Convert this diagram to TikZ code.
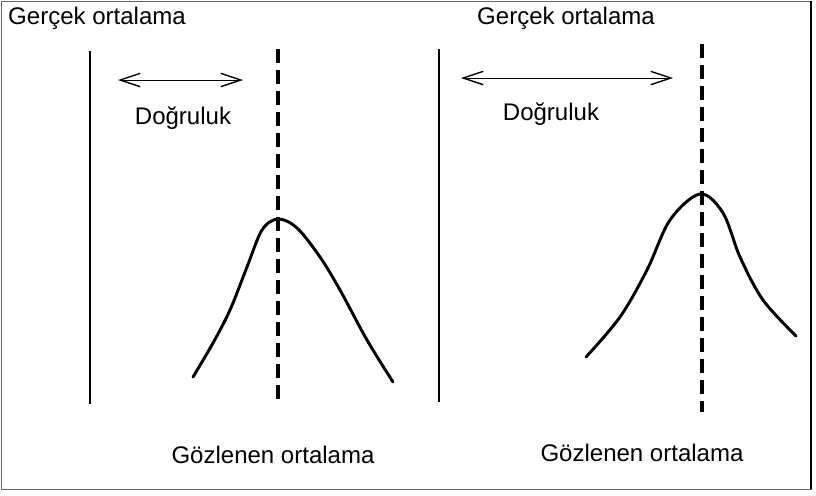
\documentclass[tikz,border=0pt]{standalone}
\usepackage{fontspec}
\setmainfont{Liberation Sans}
\usetikzlibrary{arrows.meta}
\tikzset{lbl/.style={inner sep=0pt,font=\fontsize{20.5}{24}\selectfont},truemean/.style={line width=1.3pt},obsmean/.style={line width=2.8pt,dash pattern=on 4.2mm off 2.1mm},bell/.style={line width=2.5pt,line cap=round,line join=round},accline/.style={{Straight Barb[length=6mm,width=4mm,line width=1.2pt]}-{Straight Barb[length=6mm,width=4mm,line width=1.2pt]},line width=0.7pt}}

\begin{document}
\begin{tikzpicture}[x=0.03cm,y=-0.03cm]
\useasboundingbox (0,0) rectangle (816,495);
\draw[line width=0.7pt,black!60] (1,1) rectangle (811,489);
\draw[line width=1.6pt] (811,1) -- (811,489);
% left panel
\node[lbl,anchor=base west] (true1) at (8,24) {Gerçek ortalama};
\coordinate (t1top) at (90,51);
\coordinate (t1bot) at (90,404);
\coordinate (o1top) at (278,49);
\coordinate (o1bot) at (278,400);
\draw[truemean] (t1top) -- (t1bot);
\draw[obsmean] (o1top) -- (o1bot);
\coordinate (a1l) at (118,80);
\coordinate (a1r) at (243,80);
\draw[accline] (a1l) -- (a1r);
\node[lbl,anchor=base] (acc1) at (183,124) {Doğruluk};
\draw[bell] plot[smooth,tension=0.55] coordinates {(193,377) (213,343) (230,310) (247,267) (262,230) (278,219) (297,228) (320,257) (340,290) (367,340) (393,382)};
\node[lbl,anchor=base] (obs1) at (273,463) {Gözlenen ortalama};
% right panel
\node[lbl,anchor=base west] (true2) at (477,24) {Gerçek ortalama};
\coordinate (t2top) at (439,49);
\coordinate (t2bot) at (439,402);
\coordinate (o2top) at (702,44);
\coordinate (o2bot) at (702,412);
\draw[truemean] (t2top) -- (t2bot);
\draw[obsmean] (o2top) -- (o2bot);
\coordinate (a2l) at (461,78);
\coordinate (a2r) at (673,78);
\draw[accline] (a2l) -- (a2r);
\node[lbl,anchor=base] (acc2) at (551,120) {Doğruluk};
\draw[bell] plot[smooth,tension=0.55] coordinates {(586,357) (620,317) (647,270) (670,220) (700,194) (723,213) (740,257) (763,300) (796,336)};
\node[lbl,anchor=base] (obs2) at (642,461) {Gözlenen ortalama};
\end{tikzpicture}
\end{document}
